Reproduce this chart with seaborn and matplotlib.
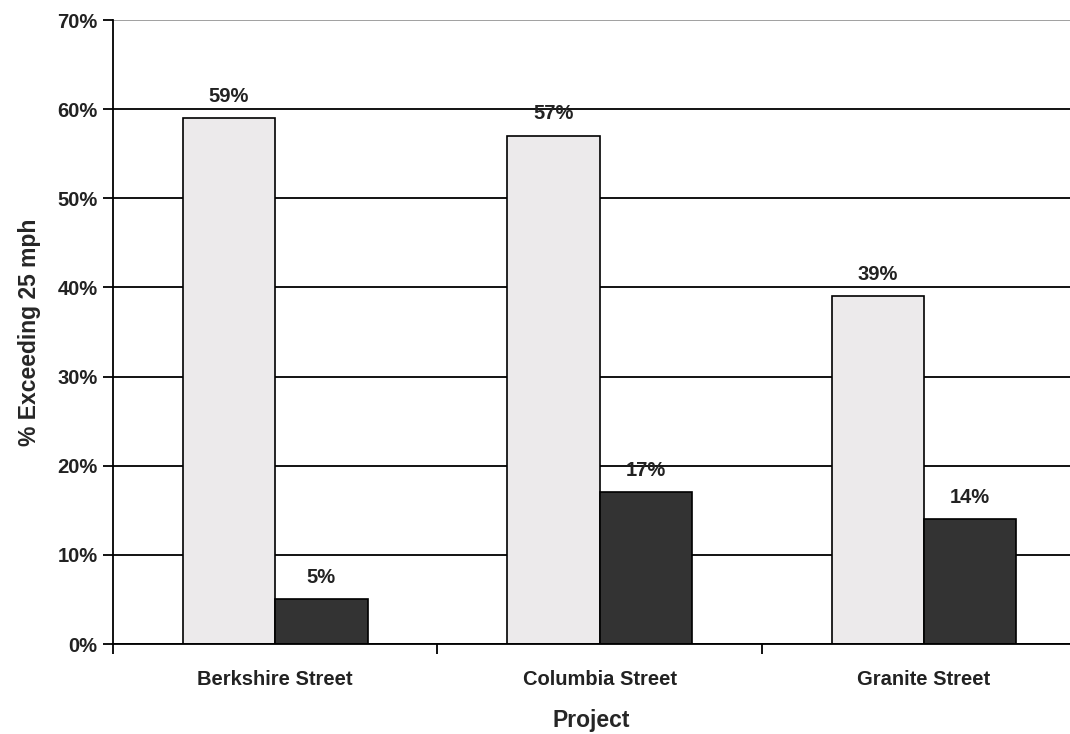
import matplotlib
matplotlib.use("Agg")
import matplotlib.pyplot as plt
import seaborn as sns
import pandas as pd
from matplotlib.ticker import FixedLocator, FuncFormatter

projects = ["Berkshire Street", "Columbia Street", "Granite Street"]
series_names = ["Before", "After"]
before_vals = [59, 57, 39]
after_vals = [5, 17, 14]

df = pd.DataFrame({
    "Project": projects * 2,
    "Series": [series_names[0]] * 3 + [series_names[1]] * 3,
    "Value": before_vals + after_vals,
})

sns.set_theme(style="white")
plt.rcParams["font.family"] = ["Liberation Sans", "DejaVu Sans"]
plt.rcParams["font.weight"] = "bold"

fig = plt.figure(figsize=(10.7, 7.34), dpi=100)
ax = fig.add_axes([113 / 1070, 1 - 644 / 734, (1070 - 113) / 1070, (644 - 20) / 734])

sns.barplot(data=df, x="Project", y="Value", hue="Series", order=projects,
            hue_order=series_names, palette=["#ECEAEB", "#333333"],
            width=0.57, gap=0, edgecolor="black", linewidth=1.2,
            legend=False, ax=ax, errorbar=None, saturation=1)

for cont in ax.containers:
    for bar in cont:
        h = bar.get_height()
        ax.annotate(f"{h:.0f}%", (bar.get_x() + bar.get_width() / 2, h),
                    xytext=(0, 9), textcoords="offset points",
                    ha="center", va="bottom", fontsize=14.5, fontweight="bold",
                    color="#222222")

ax.set_xlim(-0.5, 2.45)
ax.set_ylim(0, 70)
ax.set_yticks(range(0, 71, 10))
ax.yaxis.set_major_formatter(FuncFormatter(lambda v, p: f"{v:.0f}%"))
ax.set_axisbelow(True)
ax.yaxis.grid(True, color="black", linewidth=1.3)
ax.get_ygridlines()[-1].set_color("#999999")

for s in ["top", "right"]:
    ax.spines[s].set_visible(False)
for s in ["left", "bottom"]:
    ax.spines[s].set_color("black")
    ax.spines[s].set_linewidth(1.3)

ax.tick_params(axis="y", which="major", left=True, length=7, width=1.3,
               direction="out", color="black", labelsize=14.5, pad=4)
ax.tick_params(axis="x", which="major", bottom=False, labelsize=14.5, pad=13)
ax.xaxis.set_minor_locator(FixedLocator([-0.5, 0.5, 1.5]))
ax.tick_params(axis="x", which="minor", bottom=True, length=7, width=1.3,
               direction="out", color="black")
for lbl in ax.get_xticklabels() + ax.get_yticklabels():
    lbl.set_fontweight("bold")
    lbl.set_color("#222222")

ax.set_xlabel("Project", fontsize=16.5, fontweight="bold", labelpad=14)
ax.set_ylabel("% Exceeding 25 mph", fontsize=16.5, fontweight="bold", labelpad=12)

fig.savefig("out.png", dpi=100)
